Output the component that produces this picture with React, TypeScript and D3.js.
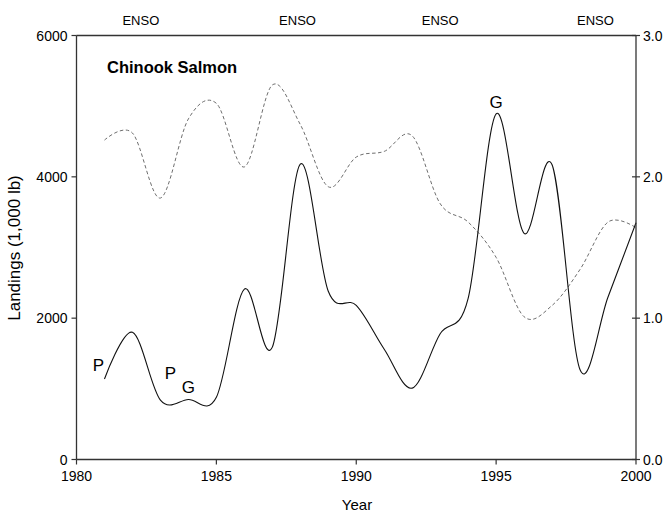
import React from "react";
import * as d3 from "d3";

const years = [1981, 1982, 1983, 1984, 1985, 1986, 1987, 1988, 1989, 1990, 1991, 1992, 1993, 1994, 1995, 1996, 1997, 1998, 1999, 2000];
const landings = [1140, 1800, 840, 850, 880, 2410, 1590, 4180, 2380, 2180, 1560, 1010, 1780, 2280, 4890, 3200, 4170, 1270, 2300, 3350];
const ensoIndex = [2.26, 2.31, 1.85, 2.41, 2.52, 2.07, 2.65, 2.37, 1.93, 2.14, 2.18, 2.29, 1.81, 1.68, 1.43, 1.01, 1.09, 1.345, 1.68, 1.64];

const xTicks = [1980, 1985, 1990, 1995, 2000];
const leftTicks = [0, 2000, 4000, 6000];
const rightTicks = [0, 1, 2, 3];
const ensoLabelYears = [1982.3, 1987.9, 1993.0, 1998.55];
const annotations = [
  { year: 1980.78, value: 1340, text: "P" },
  { year: 1983.36, value: 1220, text: "P" },
  { year: 1984.0, value: 1030, text: "G" },
  { year: 1995.0, value: 5060, text: "G" },
];

const W = 671, H = 515;
const L = 76.5, R = 636, T = 35.5, B = 459.5;
const FONT = "'Liberation Sans', Arial, sans-serif";

export default function App() {
  const x = d3.scaleLinear().domain([1980, 2000]).range([L, R]);
  const yL = d3.scaleLinear().domain([0, 6000]).range([B, T]);
  const yR = d3.scaleLinear().domain([0, 3]).range([B, T]);

  const solid = d3.line<number>()
    .x((_, i) => x(years[i]))
    .y((d) => yL(d))
    .curve(d3.curveCatmullRom.alpha(0));
  const dashed = d3.line<number>()
    .x((_, i) => x(years[i]))
    .y((d) => yR(d))
    .curve(d3.curveCatmullRom.alpha(0));

  const axisColor = "#333";

  return (
    <svg width={W} height={H} style={{ position: "absolute", left: 0, top: 0, background: "#fff" }} fontFamily={FONT}>
      {/* dashed series */}
      <path d={dashed(ensoIndex) || ""} fill="none" stroke="#6e6e6e" strokeWidth={1} strokeDasharray="3.5,2.5" />
      {/* solid series */}
      <path d={solid(landings) || ""} fill="none" stroke="#111" strokeWidth={1.1} />

      {/* frame */}
      <line x1={L} x2={R} y1={T} y2={T} stroke={axisColor} strokeWidth={1.3} />
      <line x1={L} x2={R} y1={B} y2={B} stroke={axisColor} strokeWidth={1.3} />
      <line x1={L} x2={L} y1={T} y2={B} stroke={axisColor} strokeWidth={1.3} />
      <line x1={R} x2={R} y1={T} y2={B} stroke={axisColor} strokeWidth={1.3} />

      {/* left axis */}
      {leftTicks.map((t) => (
        <g key={"l" + t}>
          <line x1={L - 5} x2={L} y1={yL(t)} y2={yL(t)} stroke={axisColor} strokeWidth={1.2} />
          <text x={L - 9} y={yL(t) + 5} fontSize={14} textAnchor="end" fill="#000">{t}</text>
        </g>
      ))}
      {/* right axis */}
      {rightTicks.map((t) => (
        <g key={"r" + t}>
          <line x1={R - 4} x2={R + 4} y1={yR(t)} y2={yR(t)} stroke={axisColor} strokeWidth={1.2} />
          <text x={R + 7} y={yR(t) + 5} fontSize={14} textAnchor="start" fill="#000">{t.toFixed(1)}</text>
        </g>
      ))}
      {/* bottom axis */}
      {xTicks.map((t) => (
        <g key={"x" + t}>
          <line x1={x(t)} x2={x(t)} y1={B} y2={B + 5} stroke={axisColor} strokeWidth={1.2} />
          <text x={x(t)} y={481} fontSize={14} textAnchor="middle" fill="#000">{t}</text>
        </g>
      ))}

      {/* axis titles */}
      <text x={357} y={510} fontSize={15} textAnchor="middle" fill="#000">Year</text>
      <text transform={`translate(20,248) rotate(-90)`} fontSize={17} textAnchor="middle" fill="#000">Landings (1,000 lb)</text>

      {/* ENSO labels */}
      {ensoLabelYears.map((yr, i) => (
        <text key={"e" + i} x={x(yr)} y={25} fontSize={13} textAnchor="middle" fill="#000">ENSO</text>
      ))}

      {/* title */}
      <text x={107} y={73} fontSize={16.5} fontWeight="bold" fill="#000">Chinook Salmon</text>

      {/* annotations */}
      {annotations.map((a, i) => (
        <text key={"a" + i} x={x(a.year)} y={yL(a.value) + 6} fontSize={17} textAnchor="middle" fill="#000">{a.text}</text>
      ))}
    </svg>
  );
}
